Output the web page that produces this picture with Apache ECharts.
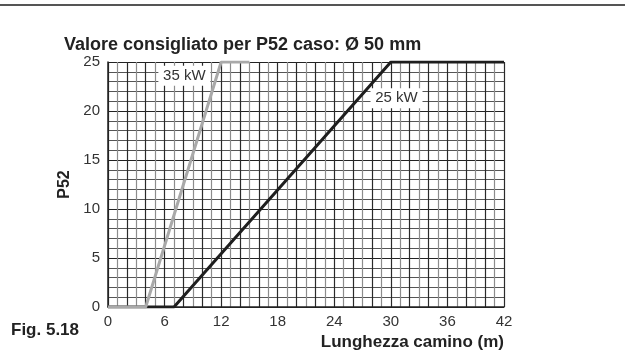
<!DOCTYPE html>
<html>
<head>
<meta charset="utf-8">
<script src="https://cdn.jsdelivr.net/npm/echarts@6/dist/echarts.min.js"></script>
<style>
  html, body { margin: 0; padding: 0; background: #fff; }
  #chart { width: 625px; height: 354px; }
</style>
</head>
<body>
<div id="chart"></div>
<script>
// dati
var xTicks = [0, 6, 12, 18, 24, 30, 36, 42];
var yTicks = [0, 5, 10, 15, 20, 25];
var kw35 = [[0, 0], [4, 0], [12, 25], [15, 25]];
var kw25 = [[0, 0], [7, 0], [30, 25], [42, 25]];
var label35 = [8.1, 23.6];
var label25 = [30.6, 21.3];

var myChart = echarts.init(document.getElementById('chart'), null, {renderer: 'canvas'});

var option = {
  animation: false,
  title: {
    text: 'Valore consigliato per P52 caso: Ø 50 mm',
    left: 59,
    top: 31,
    textStyle: {
      fontFamily: 'Liberation Sans',
      fontWeight: 'bold',
      fontSize: 18,
      color: '#222'
    }
  },
  graphic: [
    {
      type: 'line',
      shape: {x1: 0, y1: 5, x2: 625, y2: 5},
      style: {stroke: '#555', lineWidth: 2}
    },
    {
      type: 'text',
      left: 11,
      top: 322,
      style: {
        text: 'Fig. 5.18',
        font: 'bold 17px "Liberation Sans"',
        fill: '#222'
      }
    }
  ],
  grid: {
    left: 108,
    right: 121,
    top: 62,
    bottom: 47
  },
  xAxis: {
    type: 'value',
    min: 0,
    max: 42,
    interval: 1,
    name: 'Lunghezza camino (m)',
    nameLocation: 'end',
    nameGap: 0,
    nameTextStyle: {
      fontFamily: 'Liberation Sans',
      fontWeight: 'bold',
      fontSize: 17,
      color: '#222',
      align: 'right',
      verticalAlign: 'top',
      padding: [27, 0, 0, 0]
    },
    axisLine: {lineStyle: {color: '#222', width: 1.5}},
    axisTick: {show: false},
    axisLabel: {
      color: '#333',
      fontFamily: 'Liberation Sans',
      fontSize: 15,
      margin: 7,
      formatter: function (v) {
        return xTicks.indexOf(v) >= 0 ? v : '';
      }
    },
    splitLine: {
      show: true,
      lineStyle: {color: ['#2a2a2a', '#8c8c8c'], width: 1.2}
    }
  },
  yAxis: {
    type: 'value',
    min: 0,
    max: 25,
    interval: 1,
    name: 'P52',
    nameLocation: 'middle',
    nameGap: 33,
    nameRotate: 90,
    nameTextStyle: {
      fontFamily: 'Liberation Sans',
      fontWeight: 'bold',
      fontSize: 16,
      color: '#222'
    },
    axisLine: {show: true, lineStyle: {color: '#222', width: 1.5}},
    axisTick: {show: false},
    axisLabel: {
      color: '#333',
      fontFamily: 'Liberation Sans',
      fontSize: 15,
      margin: 8,
      formatter: function (v) {
        return yTicks.indexOf(v) >= 0 ? v : '';
      }
    },
    splitLine: {
      show: true,
      lineStyle: {color: ['#222', '#555', '#555', '#555', '#555'], width: 1.2}
    }
  },
  series: [
    {
      name: '25 kW',
      type: 'line',
      data: kw25,
      showSymbol: false,
      lineStyle: {color: '#1e1e1e', width: 3},
      z: 3,
      markPoint: {
        symbol: 'rect',
        symbolSize: [52, 20],
        itemStyle: {color: '#fff'},
        label: {
          show: true,
          formatter: '25 kW',
          color: '#333',
          fontFamily: 'Liberation Sans',
          fontSize: 15
        },
        data: [{coord: label25}]
      }
    },
    {
      name: '35 kW',
      type: 'line',
      data: kw35,
      showSymbol: false,
      lineStyle: {color: '#a9a9a9', width: 3},
      z: 4,
      markPoint: {
        symbol: 'rect',
        symbolSize: [52, 20],
        itemStyle: {color: '#fff'},
        label: {
          show: true,
          formatter: '35 kW',
          color: '#333',
          fontFamily: 'Liberation Sans',
          fontSize: 15
        },
        data: [{coord: label35}]
      }
    }
  ]
};

myChart.setOption(option);
</script>
</body>
</html>
